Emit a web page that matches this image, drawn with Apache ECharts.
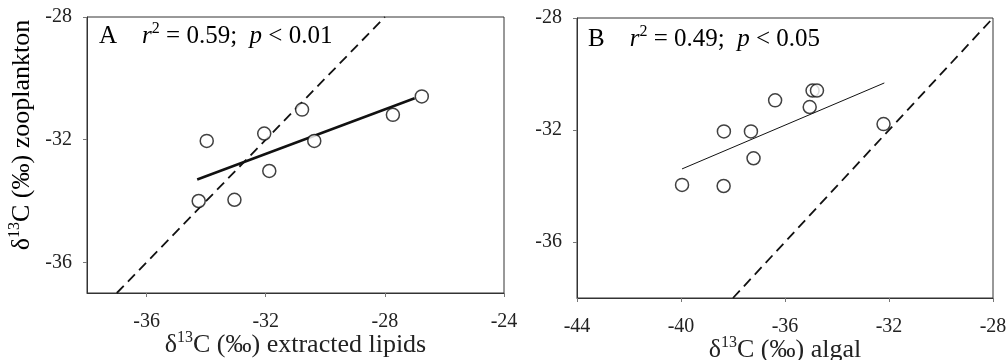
<!DOCTYPE html>
<html>
<head>
<meta charset="utf-8">
<script src="https://cdn.jsdelivr.net/npm/echarts@6/dist/echarts.min.js"></script>
<style>
  html, body { margin: 0; padding: 0; background: #fff; }
  #chart { width: 1006px; height: 360px; }
</style>
</head>
<body>
<div id="chart"></div>
<script>
// panel A: zooplankton vs extracted lipids
var lipidsX = [-33.98, -34.25, -33.05, -32.05, -31.88, -30.78, -30.37, -27.73, -26.76]
var zooA = [-32.04, -34.0, -33.96, -31.8, -33.02, -31.02, -32.04, -31.19, -30.59]
var fitA = [[-34.3, -33.3], [-27.0, -30.65]]
var oneToOneA = [[-37, -37], [-28, -28]]

// panel B: zooplankton vs algal
var algalX = [-39.96, -38.36, -38.35, -37.31, -37.21, -36.38, -35.05, -34.94, -34.77, -32.21]
var zooB = [-33.96, -34.0, -32.05, -32.05, -33.01, -30.94, -31.18, -30.59, -30.59, -31.79]
var fitB = [[-39.96, -33.39], [-32.18, -30.32]]
var oneToOneB = [[-38, -38], [-28, -28]]

// tick labels
var ticksAx = [-36, -32, -28, -24]
var ticksAy = [-36, -32, -28]
var ticksBx = [-44, -40, -36, -32, -28]
var ticksBy = [-36, -32, -28]

function pairs (xs, ys) {
    var out = []
    for (var i = 0; i < xs.length; i++) {
        out.push([xs[i], ys[i]])
    }
    return out
}

var serif = 'Liberation Serif'
var ink = '#222'

// rich styles: superscripts sit in a shorter box aligned to the top of the line
var richTitle = {
    n: { fontFamily: serif, fontSize: 26, lineHeight: 30, color: ink },
    s: { fontFamily: serif, fontSize: 16, lineHeight: 21, color: ink, verticalAlign: 'top' }
}
var richNote = {
    n: { fontFamily: serif, fontSize: 25, lineHeight: 30, color: ink },
    i: { fontFamily: serif, fontSize: 25, lineHeight: 30, color: ink, fontStyle: 'italic' },
    s: { fontFamily: serif, fontSize: 16, lineHeight: 21, color: ink, verticalAlign: 'top' }
}

function makeX (idx, min, max, ticks, name) {
    return {
        type: 'value',
        gridIndex: idx,
        min: min,
        max: max,
        name: name,
        nameLocation: 'middle',
        nameGap: 37,
        nameMoveOverlap: false,
        nameTextStyle: { rich: richTitle },
        splitLine: { show: false },
        axisLine: { show: true, lineStyle: { color: '#333', width: 1 } },
        axisTick: { show: true, inside: false, length: 4, customValues: ticks, lineStyle: { color: '#777' } },
        axisLabel: { customValues: ticks, margin: 19, fontFamily: serif, fontSize: 20, color: ink }
    }
}

function makeY (idx, min, max, ticks) {
    return {
        type: 'value',
        gridIndex: idx,
        min: min,
        max: max,
        splitLine: { show: false },
        axisLine: { show: true, lineStyle: { color: '#333', width: 1 } },
        axisTick: { show: true, inside: false, length: 4, customValues: ticks, lineStyle: { color: '#777' } },
        axisLabel: { customValues: ticks, margin: 15, fontFamily: serif, fontSize: 20, color: ink }
    }
}

var chart = echarts.init(document.getElementById('chart'))

chart.setOption({
    animation: false,
    backgroundColor: '#fff',
    grid: [
        { left: 87, top: 17, width: 417, height: 276, outerBoundsMode: 'none', containLabel: false,
          show: true, borderColor: '#333', borderWidth: 1, backgroundColor: 'transparent' },
        { left: 577, top: 18, width: 416, height: 280, outerBoundsMode: 'none', containLabel: false,
          show: true, borderColor: '#333', borderWidth: 1, backgroundColor: 'transparent' }
    ],
    xAxis: [
        makeX(0, -38, -24, ticksAx, '{n|δ}{s|13}{n|C (‰) extracted lipids}'),
        makeX(1, -44, -28, ticksBx, '{n|δ}{s|13}{n|C (‰) algal}')
    ],
    yAxis: [
        makeY(0, -37, -28, ticksAy),
        makeY(1, -38, -28, ticksBy)
    ],
    graphic: [
        {
            type: 'text',
            x: 22,
            y: 135,
            rotation: Math.PI / 2,
            style: {
                text: '{n|δ}{s|13}{n|C (‰) zooplankton}',
                rich: richTitle,
                align: 'center',
                verticalAlign: 'middle'
            }
        },
        {
            type: 'text',
            left: 99,
            top: 21,
            style: {
                text: '{n|A    }{i|r}{s|2}{n| = 0.59;  }{i|p}{n| < 0.01}',
                rich: richNote
            }
        },
        {
            type: 'text',
            left: 588,
            top: 24,
            style: {
                text: '{n|B    }{i|r}{s|2}{n| = 0.49;  }{i|p}{n| < 0.05}',
                rich: richNote
            }
        }
    ],
    series: [
        // 1:1 line A
        {
            type: 'line', xAxisIndex: 0, yAxisIndex: 0,
            data: oneToOneA, symbol: 'none', z: 2,
            lineStyle: { color: '#111', width: 1.8, type: [10, 6] }
        },
        // regression A
        {
            type: 'line', xAxisIndex: 0, yAxisIndex: 0,
            data: fitA, symbol: 'none', z: 2,
            lineStyle: { color: '#111', width: 2.5 }
        },
        {
            type: 'scatter', xAxisIndex: 0, yAxisIndex: 0,
            data: pairs(lipidsX, zooA), symbol: 'circle', symbolSize: 13, z: 3,
            itemStyle: { color: '#fff', borderColor: '#111', borderWidth: 1.5 }
        },
        // 1:1 line B
        {
            type: 'line', xAxisIndex: 1, yAxisIndex: 1,
            data: oneToOneB, symbol: 'none', z: 2,
            lineStyle: { color: '#111', width: 1.8, type: [10, 6] }
        },
        // regression B
        {
            type: 'line', xAxisIndex: 1, yAxisIndex: 1,
            data: fitB, symbol: 'none', z: 2,
            lineStyle: { color: '#111', width: 1 }
        },
        {
            type: 'scatter', xAxisIndex: 1, yAxisIndex: 1,
            data: pairs(algalX, zooB), symbol: 'circle', symbolSize: 13, z: 3,
            itemStyle: { color: '#fff', borderColor: '#111', borderWidth: 1.5 }
        }
    ]
})
</script>
</body>
</html>
